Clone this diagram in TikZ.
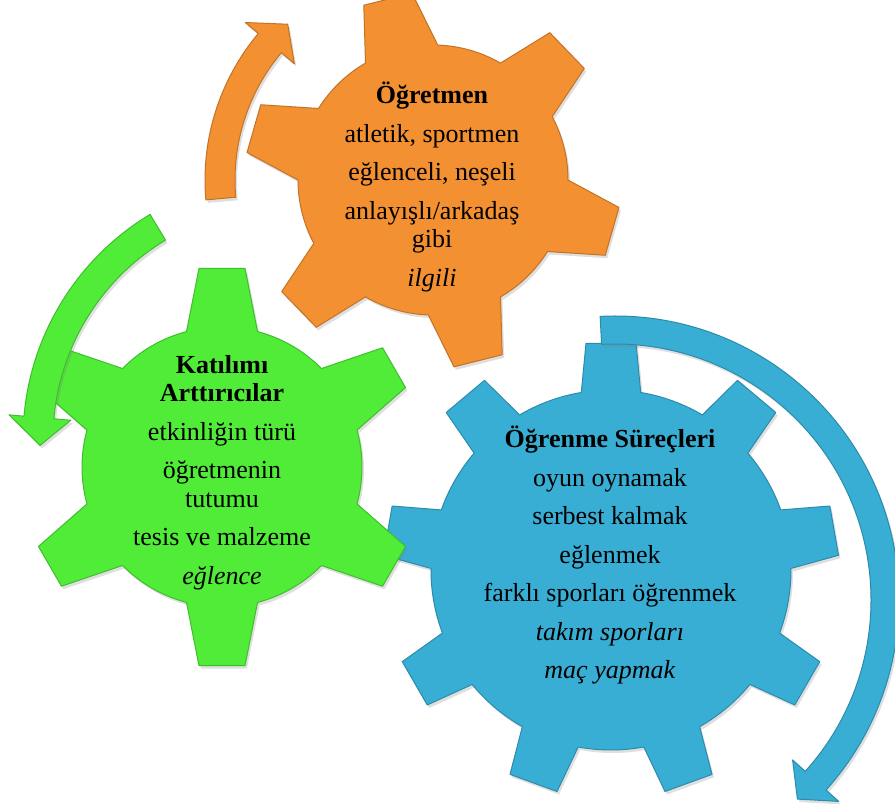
\documentclass[tikz,border=0pt]{standalone}
\usepackage{fontspec}
\setmainfont{Liberation Serif}
\usepackage{tikz}
\usetikzlibrary{shadows}

\definecolor{gearorange}{RGB}{242,144,50}
\definecolor{geargreen}{RGB}{80,236,56}
\definecolor{gearblue}{RGB}{56,174,212}

\tikzset{
  gear/.style={line width=1pt,line join=round,drop shadow={opacity=.25,shadow xshift=2pt,shadow yshift=-3pt}},
  gtext/.style={align=center,inner sep=0pt,anchor=north,font=\fontsize{26}{28.5}\selectfont}
}

\begin{document}
\begin{tikzpicture}[x=1pt,y=1pt]
\useasboundingbox (0,0) rectangle (895,-811);
\fill[gear,fill=gearblue,draw=gearblue!80!black,shift={(611,-570)}] (80.5:180) \foreach \t in {90,130,...,410} { -- (\t-9.5:180) -- (\t-6.3:228) -- (\t+6.3:228) -- (\t+9.5:180) arc[start angle=\t+9.5,end angle=\t+30.5,radius=180] } -- cycle;
\fill[gear,fill=geargreen,draw=geargreen!80!black,shift={(222,-467)}] (15.3:140) \foreach \t in {30,90,...,330} { -- (\t-14.7:140) -- (\t-6.6:200) -- (\t+6.6:200) -- (\t+14.7:140) arc[start angle=\t+14.7,end angle=\t+45.3,radius=140] } -- cycle;
\fill[gear,fill=gearorange,draw=gearorange!80!black,shift={(433,-180)}] (28:135) \foreach \t in {44,104,...,344} { -- (\t-16:135) -- (\t-7.6:188) -- (\t+7.6:188) -- (\t+16:135) arc[start angle=\t+16,end angle=\t+44,radius=135] } -- cycle;
\fill[gear,fill=gearorange,draw=gearorange!80!black,shift={(433,-180)}] (185:228) arc[start angle=185,end angle=140,radius=228] -- (140:245) -- (133:213) -- (140:181) -- (140:198) arc[start angle=140,end angle=185,radius=198] -- cycle;
\fill[gear,fill=geargreen,draw=geargreen!80!black,shift={(285,-439)}] (121:232) arc[start angle=121,end angle=175,radius=232] -- (175:215) -- (181.5:245) -- (175:277) -- (175:262) arc[start angle=175,end angle=121,radius=262] -- cycle;
\fill[gear,fill=gearblue,draw=gearblue!80!black,shift={(615,-600)}] (93:284) arc[start angle=93,end angle=-42,radius=284] -- (-42:301) -- (-47.5:270) -- (-42:239) -- (-42:256) arc[start angle=-42,end angle=93,radius=256] -- cycle;
\node[gtext] (ogretmen) at (432,-82) {\textbf{Öğretmen}\\[10pt] atletik, sportmen\\[10pt] eğlenceli, neşeli\\[10pt] anlayışlı/arkadaş\\ gibi\\[10pt] \textit{ilgili}};
\node[gtext] (katilim) at (222,-355) {\textbf{Katılımı}\\ \textbf{Arttırıcılar}\\[10pt] etkinliğin türü\\[10pt] öğretmenin\\ tutumu\\[10pt] tesis ve malzeme\\[10pt] \textit{eğlence}};
\node[gtext] (surec) at (610,-426) {\textbf{Öğrenme Süreçleri}\\[10pt] oyun oynamak\\[10pt] serbest kalmak\\[10pt] eğlenmek\\[10pt] farklı sporları öğrenmek\\[10pt] \textit{takım sporları}\\[10pt] \textit{maç yapmak}};
\end{tikzpicture}
\end{document}
